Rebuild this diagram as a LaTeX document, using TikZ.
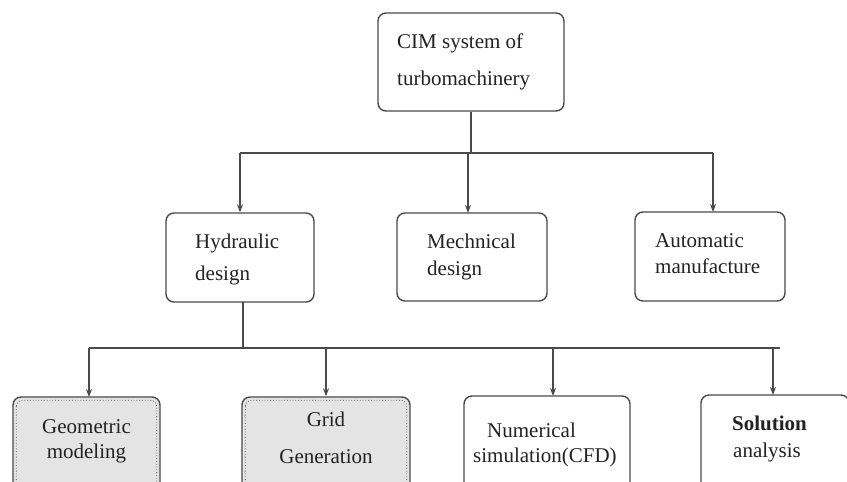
\documentclass[tikz,border=0pt]{standalone}
\usepackage{fontspec}
\setmainfont{Liberation Serif}
\usetikzlibrary{arrows.meta}
\definecolor{ink}{HTML}{4A4A4A}
\definecolor{txt}{HTML}{222222}
\definecolor{shade}{HTML}{E4E4E4}
\tikzset{
  box/.style={draw=ink, line width=1.4pt, rounded corners=8pt, rectangle, inner sep=0pt},
  shadedbox/.style={box, fill=shade},
  lbl/.style={anchor=base west, inner sep=0pt, text=txt, font=\fontsize{21}{25}\selectfont},
  clbl/.style={lbl, anchor=base},
  wire/.style={draw=ink, line width=1.3pt},
  arr/.style={wire, -{Stealth[length=8pt,width=6pt]}},
}
\begin{document}
\begin{tikzpicture}[x=1pt,y=-1pt]
\useasboundingbox (0,0) rectangle (847,482);
\clip (0,0) rectangle (847,482);
\fill[white] (0,0) rectangle (847,482);

% top level
\node[box, minimum width=186pt, minimum height=98pt] (cim) at (471,62) {};
\node[lbl] (cimA) at (397,48) {CIM system of};
\node[lbl] (cimB) at (397,85) {turbomachinery};

% second level
\node[box, minimum width=148pt, minimum height=89pt] (hyd) at (240,257.5) {};
\node[lbl] (hydA) at (195,248) {Hydraulic};
\node[lbl] (hydB) at (195,280) {design};

\node[box, minimum width=150pt, minimum height=88pt] (mech) at (472,257) {};
\node[lbl] (mechA) at (427,248) {Mechnical};
\node[lbl] (mechB) at (427,275) {design};

\node[box, minimum width=150pt, minimum height=89pt] (auto) at (710,256.5) {};
\node[lbl] (autoA) at (655,247) {Automatic};
\node[lbl] (autoB) at (655,273) {manufacture};

% third level (boxes run past the lower edge)
\node[shadedbox, minimum width=147pt, minimum height=110pt] (geo) at (86.5,452) {};
\draw[ink, dotted, line width=0.8pt, rounded corners=6pt]
  ([shift={(4,4)}]geo.north west) rectangle ([shift={(-4,-4)}]geo.south east);
\node[clbl] (geoA) at (86.5,433) {Geometric};
\node[clbl] (geoB) at (86.5,458) {modeling};

\node[shadedbox, minimum width=168pt, minimum height=110pt] (grid) at (326,452) {};
\draw[ink, dotted, line width=0.8pt, rounded corners=6pt]
  ([shift={(4,4)}]grid.north west) rectangle ([shift={(-4,-4)}]grid.south east);
\node[clbl] (gridA) at (326,426) {Grid};
\node[clbl] (gridB) at (326,463) {Generation};

\node[box, minimum width=166pt, minimum height=110pt] (num) at (547,451) {};
\node[lbl] (numA) at (487,437) {Numerical};
\node[lbl] (numB) at (473,462) {simulation(CFD)};

\node[box, minimum width=148pt, minimum height=110pt] (sol) at (775,450) {};
\node[lbl, font=\fontsize{21}{25}\selectfont\bfseries] (solA) at (732,430) {Solution};
\node[lbl] (solB) at (733,457) {analysis};

% connectors: top level to second level
\coordinate (busA) at (471,153);
\draw[wire] (cim.south) -- (cim.south |- busA);
\draw[wire] (hyd.north |- busA) -- (713,153);
\draw[arr] (hyd.north |- busA) -- (hyd.north);
\draw[arr] (468,153) -- (468,213);
\draw[arr] (713,153) -- (713,212);

% connectors: hydraulic design to third level
\coordinate (busB) at (243,348);
\draw[wire] (243,302) -- (busB);
\draw[wire] (89,348) -- (780,348);
\draw[arr] (89,348) -- (89,397);
\draw[arr] (326,348) -- (grid.north);
\draw[arr] (553,348) -- (553,396);
\draw[arr] (773,348) -- (773,395);
\end{tikzpicture}
\end{document}
